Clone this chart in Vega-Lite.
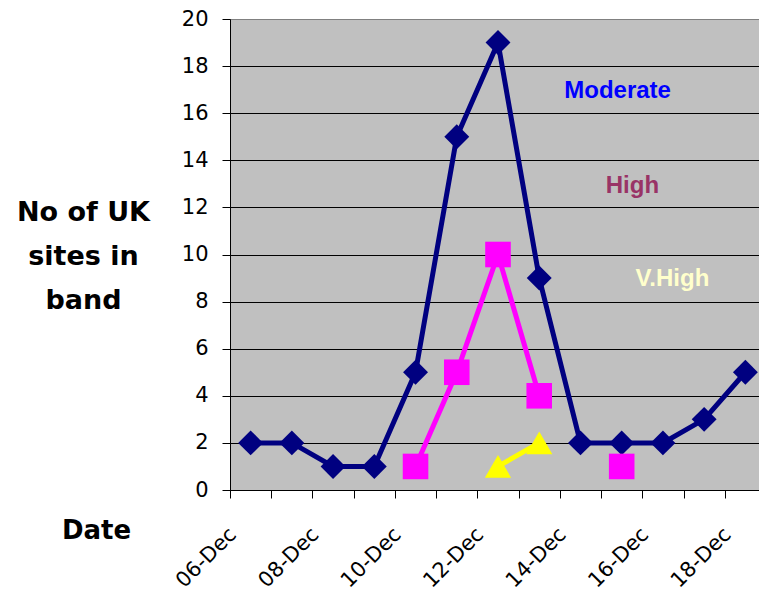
{
  "$schema": "https://vega.github.io/schema/vega-lite/v6.json",
  "width": 529,
  "height": 471,
  "autosize": "none",
  "padding": {"left": 230, "top": 19, "right": 0, "bottom": 109},
  "background": "white",
  "config": {
    "view": {"fill": "#C0C0C0", "stroke": "#808080", "strokeWidth": 1}
  },
  "datasets": {
    "bands": [
      {"date": "06-Dec", "band": "Moderate", "value": 2},
      {"date": "07-Dec", "band": "Moderate", "value": 2},
      {"date": "08-Dec", "band": "Moderate", "value": 1},
      {"date": "09-Dec", "band": "Moderate", "value": 1},
      {"date": "10-Dec", "band": "Moderate", "value": 5},
      {"date": "11-Dec", "band": "Moderate", "value": 15},
      {"date": "12-Dec", "band": "Moderate", "value": 19},
      {"date": "13-Dec", "band": "Moderate", "value": 9},
      {"date": "14-Dec", "band": "Moderate", "value": 2},
      {"date": "15-Dec", "band": "Moderate", "value": 2},
      {"date": "16-Dec", "band": "Moderate", "value": 2},
      {"date": "17-Dec", "band": "Moderate", "value": 3},
      {"date": "18-Dec", "band": "Moderate", "value": 5},
      {"date": "10-Dec", "band": "High", "value": 1},
      {"date": "11-Dec", "band": "High", "value": 5},
      {"date": "12-Dec", "band": "High", "value": 10},
      {"date": "13-Dec", "band": "High", "value": 4},
      {"date": "14-Dec", "band": "High", "value": null},
      {"date": "15-Dec", "band": "High", "value": 1},
      {"date": "12-Dec", "band": "V.High", "value": 1},
      {"date": "13-Dec", "band": "V.High", "value": 2}
    ],
    "labels": [
      {"label": "Moderate", "day": 14.9, "value": 16.65},
      {"label": "High", "day": 15.26, "value": 12.6},
      {"label": "V.High", "day": 16.23, "value": 8.65}
    ]
  },
  "encoding": {
    "y": {
      "field": "value",
      "type": "quantitative",
      "scale": {"domain": [0, 20], "nice": false, "zero": true},
      "axis": {
        "values": [0, 2, 4, 6, 8, 10, 12, 14, 16, 18, 20],
        "grid": true,
        "gridColor": {"condition": {"test": "datum.value == 20", "value": "#808080"}, "value": "#000000"},
        "gridWidth": 1,
        "gridOpacity": 1,
        "domainColor": "#000000",
        "domainWidth": 1,
        "tickColor": "#000000",
        "tickSize": 8,
        "labelFont": "DejaVu Sans",
        "labelFontSize": 21,
        "labelColor": "#000000",
        "labelPadding": 14,
        "title": ["No of UK", "sites in", "band"],
        "titleAngle": 0,
        "titleFont": "DejaVu Sans",
        "titleFontWeight": "bold",
        "titleFontSize": 27,
        "titleColor": "#000000",
        "titleAlign": "center",
        "titleBaseline": "alphabetic",
        "titleLineHeight": 44,
        "titleX": -147,
        "titleY": 201
      }
    }
  },
  "layer": [
    {
      "data": {"name": "bands"},
      "encoding": {
        "x": {
          "field": "date",
          "type": "ordinal",
          "scale": {
            "domain": ["06-Dec", "07-Dec", "08-Dec", "09-Dec", "10-Dec", "11-Dec", "12-Dec", "13-Dec", "14-Dec", "15-Dec", "16-Dec", "17-Dec", "18-Dec"],
            "range": [0, 536],
            "paddingInner": 0,
            "paddingOuter": 0
          },
          "axis": {
            "tickBand": "extent",
            "ticks": true,
            "tickSize": 8,
            "tickColor": "#000000",
            "domainColor": "#000000",
            "domainWidth": 1,
            "grid": false,
            "labelAngle": -45,
            "labelAlign": "right",
            "labelBaseline": "middle",
            "labelOffset": -18,
            "labelPadding": 33,
            "labelOverlap": false,
            "labelFont": "DejaVu Sans",
            "labelFontSize": 21,
            "labelColor": "#000000",
            "labelExpr": "parseInt(datum.value) % 2 == 0 ? datum.value : ''",
            "title": "Date",
            "titleFont": "DejaVu Sans",
            "titleFontWeight": "bold",
            "titleFontSize": 26,
            "titleColor": "#000000",
            "titleAlign": "center",
            "titleBaseline": "alphabetic",
            "titleAnchor": "start",
            "titleX": -134,
            "titleY": 48
          }
        },
        "color": {
          "field": "band",
          "type": "nominal",
          "scale": {"domain": ["Moderate", "High", "V.High"], "range": ["#000080", "#FF00FF", "#FFFF00"]},
          "legend": null
        }
      },
      "layer": [
        {
          "mark": {"type": "line", "strokeWidth": 5, "invalid": "break-paths-filter-domains"},
          "encoding": {"detail": {"field": "band"}}
        },
        {
          "transform": [{"filter": "datum.value != null"}],
          "mark": {"type": "point", "filled": true, "opacity": 1},
          "encoding": {
            "shape": {
              "field": "band",
              "type": "nominal",
              "scale": {"domain": ["Moderate", "High", "V.High"], "range": ["diamond", "square", "triangle-up"]},
              "legend": null
            },
            "size": {
              "field": "band",
              "type": "nominal",
              "scale": {"domain": ["Moderate", "High", "V.High"], "range": [620, 690, 760]},
              "legend": null
            }
          }
        }
      ]
    },
    {
      "data": {"name": "labels"},
      "mark": {
        "type": "text",
        "font": "Liberation Sans",
        "fontWeight": "bold",
        "fontSize": 24,
        "align": "center",
        "baseline": "alphabetic"
      },
      "encoding": {
        "x": {
          "field": "day",
          "type": "quantitative",
          "scale": {"domain": [5.5, 18.5], "range": [0, 536], "nice": false, "zero": false},
          "axis": null
        },
        "text": {"field": "label"},
        "color": {
          "field": "label",
          "type": "nominal",
          "scale": {"domain": ["Moderate", "High", "V.High"], "range": ["#0000FF", "#993366", "#FFFFCC"]},
          "legend": null
        }
      }
    }
  ],
  "resolve": {"scale": {"x": "independent", "color": "independent"}}
}
